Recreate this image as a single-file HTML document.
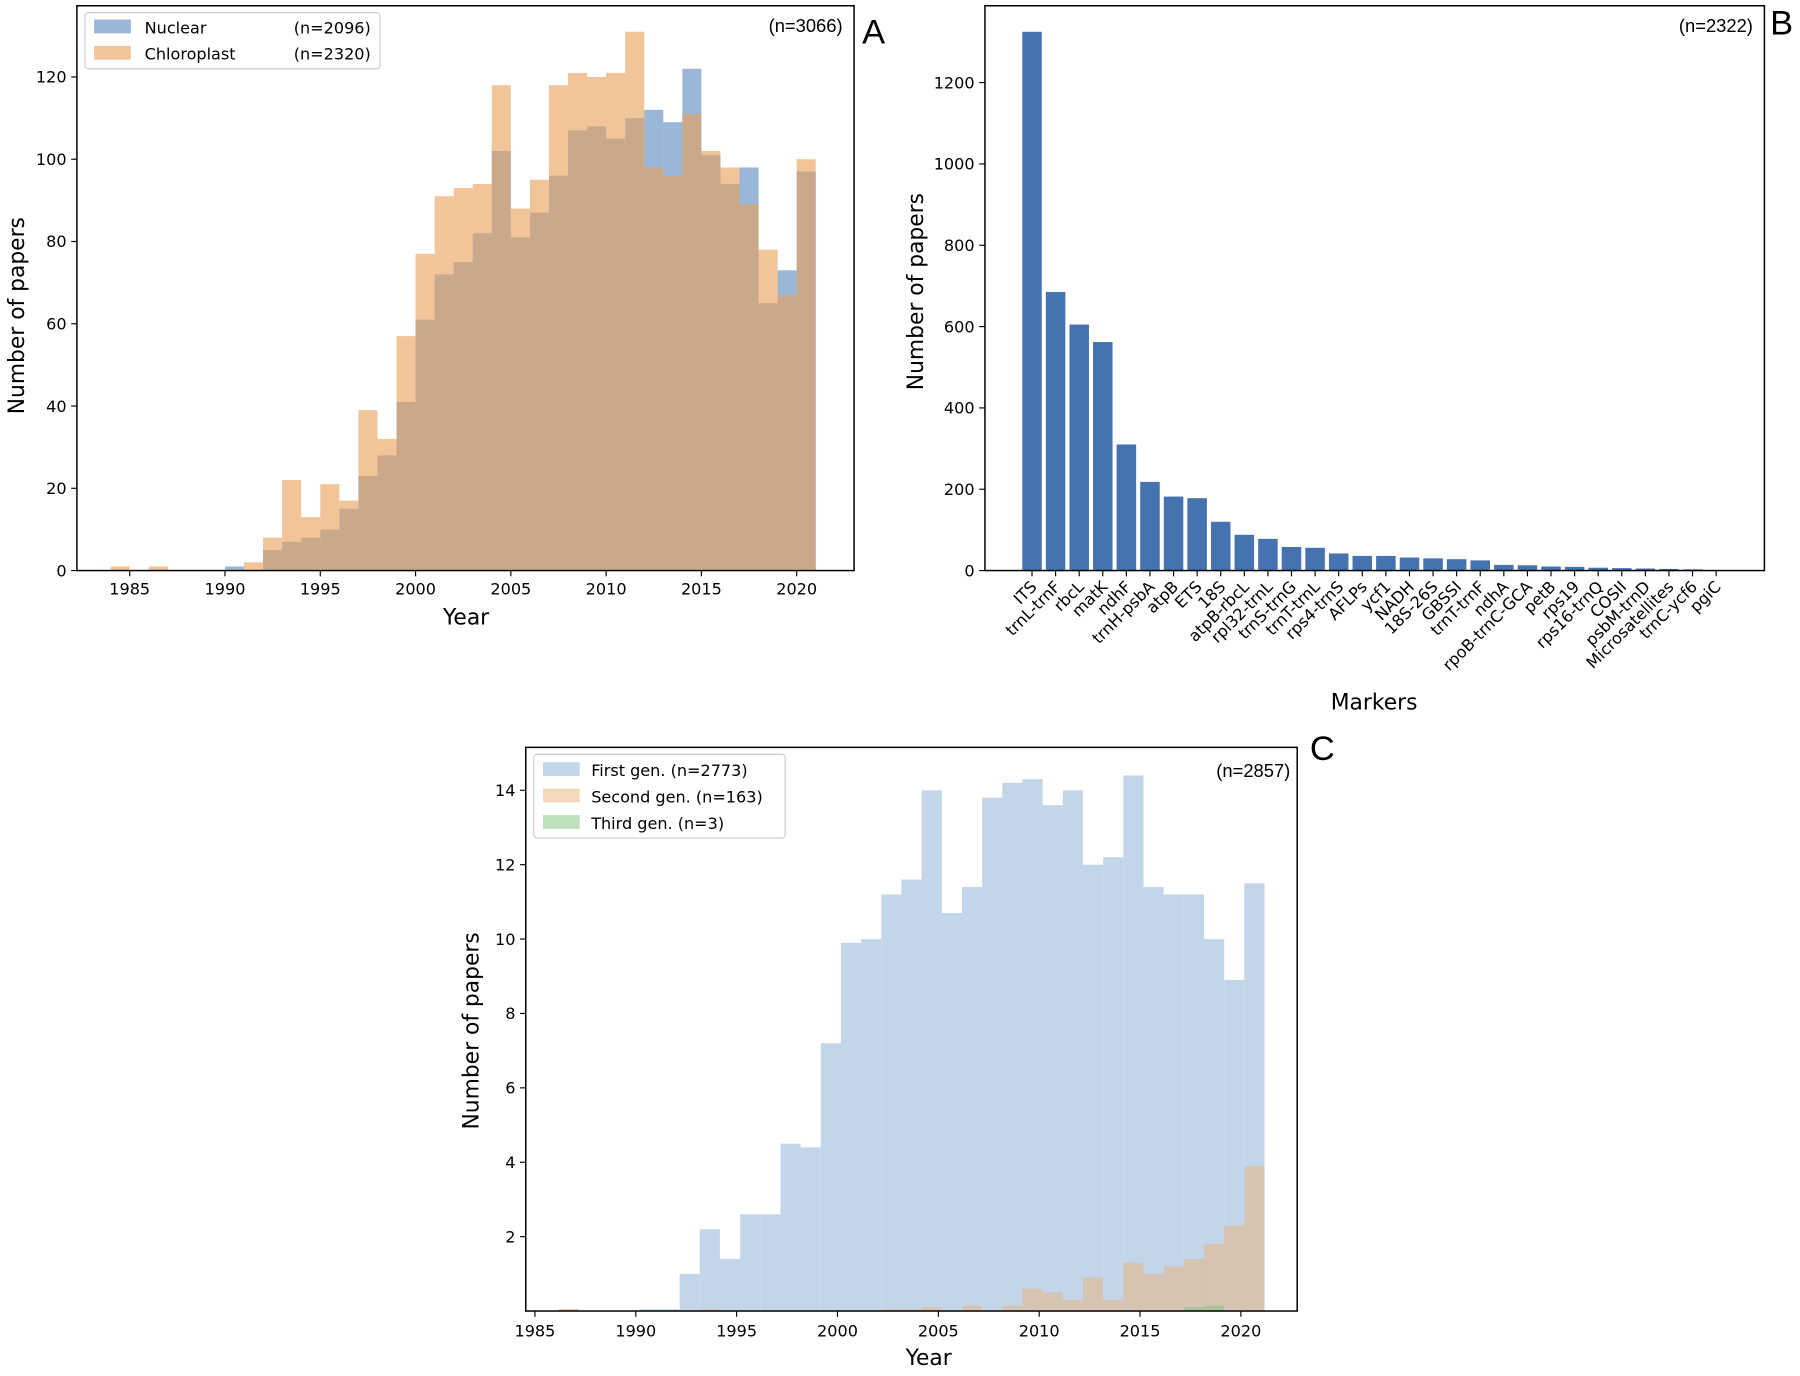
<!DOCTYPE html>
<html><head><meta charset="utf-8"><style>
html,body{margin:0;padding:0;background:#fff;}
svg{display:block;font-family:"DejaVu Sans","Liberation Sans",sans-serif;}
</style></head><body>
<svg id="fig" width="1800" height="1376" viewBox="0 0 1568 1198.6" preserveAspectRatio="none" xmlns="http://www.w3.org/2000/svg">
<g id="pa"></g>
<g id="pb"></g>
<g id="pc"></g>
</svg>
<script>
const yearsA = [1984,1985,1986,1987,1988,1989,1990,1991,1992,1993,1994,1995,1996,1997,1998,1999,2000,2001,2002,2003,2004,2005,2006,2007,2008,2009,2010,2011,2012,2013,2014,2015,2016,2017,2018,2019,2020];
const nuclearA = [0,0,0,0,0,0,1,0,5,7,8,10,15,23,28,41,61,72,75,82,102,81,87,96,107,108,105,110,112,109,122,101,94,98,65,73,97];
const chloroA  = [1,0,1,0,0,0,0,2,8,22,13,21,17,39,32,57,77,91,93,94,118,88,95,118,121,120,121,131,98,96,111,102,98,89,78,67,100];
const ticksA = [0,20,40,60,80,100,120];
const xticksYears = [1985,1990,1995,2000,2005,2010,2015,2020];

const markers = ["ITS","trnL-trnF","rbcL","matK","ndhF","trnH-psbA","atpB","ETS","18S","atpB-rbcL","rpl32-trnL","trnS-trnG","trnT-trnL","rps4-trnS","AFLPs","ycf1","NADH","18S-26S","GBSSI","trnT-trnF","ndhA","rpoB-trnC-GCA","petB","rps19","rps16-trnQ","COSII","psbM-trnD","Microsatellites","trnC-ycf6","pgiC"];
const markerCounts = [1325,685,605,562,310,218,182,178,120,88,78,58,56,42,36,36,32,30,28,25,14,13,10,9,7,6,5,4,3,1];
const ticksB = [0,200,400,600,800,1000,1200];

const yearsC = [1984,1985,1986,1987,1988,1989,1990,1991,1992,1993,1994,1995,1996,1997,1998,1999,2000,2001,2002,2003,2004,2005,2006,2007,2008,2009,2010,2011,2012,2013,2014,2015,2016,2017,2018,2019,2020];
const firstC  = [0,0,0.05,0,0,0,0.05,0.05,1.0,2.2,1.4,2.6,2.6,4.5,4.4,7.2,9.9,10.0,11.2,11.6,14.0,10.7,11.4,13.8,14.2,14.3,13.6,14.0,12.0,12.2,14.4,11.4,11.2,11.2,10.0,8.9,11.5];
const secondC = [0,0,0.05,0,0,0,0,0,0,0.05,0,0,0,0,0,0,0,0,0.05,0.05,0.1,0,0.15,0,0.15,0.6,0.5,0.3,0.9,0.3,1.3,1.0,1.2,1.4,1.8,2.3,3.9];
const thirdC  = [0,0,0,0,0,0,0,0,0,0,0,0,0,0,0,0,0,0,0,0,0,0,0,0,0,0,0,0,0,0,0,0,0,0.1,0.15,0,0];
const ticksC = [2,4,6,8,10,12,14];

const NS="http://www.w3.org/2000/svg";
function mk(parent,tag,attrs,text){const e=document.createElementNS(NS,tag);for(const k in attrs)e.setAttribute(k,attrs[k]);if(text!==undefined)e.textContent=text;parent.appendChild(e);return e;}

function axisFrame(g,L,T,R,B){
  const f=mk(g,'rect',{x:L,y:T,width:R-L,height:B-T,fill:'none',stroke:'#000','stroke-width':1.3});
  
  
}

/* Panel A */
(function(){
  const g=document.getElementById('pa');
  const L=67,T=5,R=744,B=497;
  const x=v=>113+(v-1985)*16.6;
  const y=v=>497-v*3.583;
  yearsA.forEach((yr,i)=>{
    if(nuclearA[i]>0){const r=mk(g,'rect',{x:x(yr),y:y(nuclearA[i]),width:16.6,height:B-y(nuclearA[i]),fill:'#6f99c8','fill-opacity':0.7});
      
      }
  });
  yearsA.forEach((yr,i)=>{
    if(chloroA[i]>0){const r=mk(g,'rect',{x:x(yr),y:y(chloroA[i]),width:16.6,height:B-y(chloroA[i]),fill:'#e8a05a','fill-opacity':0.62});
      
      }
  });
  axisFrame(g,L,T,R,B);
  ticksA.forEach(t=>{mk(g,'line',{x1:L-5,x2:L,y1:y(t),y2:y(t),stroke:'#000'});
    const tx=mk(g,'text',{x:L-9,y:y(t)+5,'text-anchor':'end','font-size':14},t);
    
    });
  xticksYears.forEach(t=>{mk(g,'line',{x1:x(t),x2:x(t),y1:B,y2:B+5,stroke:'#000'});
    const tx=mk(g,'text',{x:x(t),y:B+21,'text-anchor':'middle','font-size':14},t);
    
    });
  let t=mk(g,'text',{x:406,y:544,'text-anchor':'middle','font-size':19},'Year');
  
  t=mk(g,'text',{x:21,y:275,'text-anchor':'middle','font-size':19,transform:'rotate(-90 21 275)'},'Number of papers');
  
  t=mk(g,'text',{x:734,y:28,'text-anchor':'end','font-size':16,'font-family':'Liberation Sans'},'(n=3066)');
  
  t=mk(g,'text',{x:751,y:38,'font-size':30,'font-family':'Liberation Sans'},'A');
  
  const lg=mk(g,'g',{});
  mk(lg,'rect',{x:74,y:11,width:257,height:49,rx:3,fill:'#fff',stroke:'#ccc'});
  mk(lg,'rect',{x:82,y:17,width:32,height:12,fill:'#6f99c8','fill-opacity':0.7});
  mk(lg,'rect',{x:82,y:40,width:32,height:12,fill:'#e8a05a','fill-opacity':0.62});
  mk(lg,'text',{x:126,y:29,'font-size':14},'Nuclear');
  mk(lg,'text',{x:126,y:52,'font-size':14},'Chloroplast');
  mk(lg,'text',{x:323,y:29,'font-size':14,'text-anchor':'end'},'(n=2096)');
  mk(lg,'text',{x:323,y:52,'font-size':14,'text-anchor':'end'},'(n=2320)');
})();

/* Panel B */
(function(){
  const g=document.getElementById('pb');
  const L=858,T=5,R=1537,B=497;
  const x=i=>899+i*20.55;
  const y=v=>497-v*0.3542;
  markers.forEach((m,i)=>{
    const r=mk(g,'rect',{x:x(i)-8.5,y:y(markerCounts[i]),width:17,height:B-y(markerCounts[i]),fill:'#4672b0'});
    
    
    mk(g,'line',{x1:x(i),x2:x(i),y1:B,y2:B+5,stroke:'#000'});
    const tx=mk(g,'text',{x:x(i)+5,y:B+15,'text-anchor':'end','font-size':14,transform:`rotate(-45 ${x(i)+5} ${B+15})`},m);
    
    
  });
  axisFrame(g,L,T,R,B);
  ticksB.forEach(t=>{mk(g,'line',{x1:L-5,x2:L,y1:y(t),y2:y(t),stroke:'#000'});
    const tx=mk(g,'text',{x:L-9,y:y(t)+5,'text-anchor':'end','font-size':14},t);
    
    });
  let t=mk(g,'text',{x:1197,y:618,'text-anchor':'middle','font-size':19},'Markers');
  
  t=mk(g,'text',{x:804,y:254,'text-anchor':'middle','font-size':19,transform:'rotate(-90 804 254)'},'Number of papers');
  
  t=mk(g,'text',{x:1527,y:28,'text-anchor':'end','font-size':16,'font-family':'Liberation Sans'},'(n=2322)');
  
  t=mk(g,'text',{x:1542,y:30,'font-size':30,'font-family':'Liberation Sans'},'B');
  
})();

/* Panel C */
(function(){
  const g=document.getElementById('pc');
  const L=458,T=651,R=1130,B=1142;
  const x=v=>469+(v-1985)*17.57;
  const y=v=>1142-v*32.4;
  const series=[[firstC,'#aac4e0',0.7,'first-gen'],[secondC,'#e8b27a',0.5,'second-gen'],[thirdC,'#7cc47c',0.5,'third-gen']];
  series.forEach(s=>{
    yearsC.forEach((yr,i)=>{
      const v=s[0][i]; if(v<=0) return;
      const r=mk(g,'rect',{x:x(yr),y:y(v),width:17.57,height:B-y(v),fill:s[1],'fill-opacity':s[2]});
      
      
    });
  });
  axisFrame(g,L,T,R,B);
  ticksC.forEach(t=>{mk(g,'line',{x1:L-5,x2:L,y1:y(t),y2:y(t),stroke:'#000'});
    const tx=mk(g,'text',{x:L-9,y:y(t)+5,'text-anchor':'end','font-size':14},t);
    
    });
  xticksYears.forEach(t=>{const xt=x(t)-3;mk(g,'line',{x1:xt,x2:xt,y1:B,y2:B+5,stroke:'#000'});
    const tx=mk(g,'text',{x:xt,y:B+22,'text-anchor':'middle','font-size':14},t);
    
    });
  let t=mk(g,'text',{x:809,y:1189,'text-anchor':'middle','font-size':19},'Year');
  
  t=mk(g,'text',{x:417,y:898,'text-anchor':'middle','font-size':19,transform:'rotate(-90 417 898)'},'Number of papers');
  
  t=mk(g,'text',{x:1124,y:677,'text-anchor':'end','font-size':16,'font-family':'Liberation Sans'},'(n=2857)');
  
  t=mk(g,'text',{x:1141,y:662,'font-size':30,'font-family':'Liberation Sans'},'C');
  
  const lg=mk(g,'g',{});
  mk(lg,'rect',{x:465,y:657,width:219,height:73,rx:3,fill:'#fff',stroke:'#ccc'});
  mk(lg,'rect',{x:473,y:664,width:32,height:12,fill:'#aac4e0','fill-opacity':0.7});
  mk(lg,'rect',{x:473,y:687,width:32,height:12,fill:'#e8b27a','fill-opacity':0.5});
  mk(lg,'rect',{x:473,y:710,width:32,height:12,fill:'#7cc47c','fill-opacity':0.5});
  mk(lg,'text',{x:515,y:676,'font-size':14},'First gen. (n=2773)');
  mk(lg,'text',{x:515,y:699,'font-size':14},'Second gen. (n=163)');
  mk(lg,'text',{x:515,y:722,'font-size':14},'Third gen. (n=3)');
})();
</script>
</body></html>
